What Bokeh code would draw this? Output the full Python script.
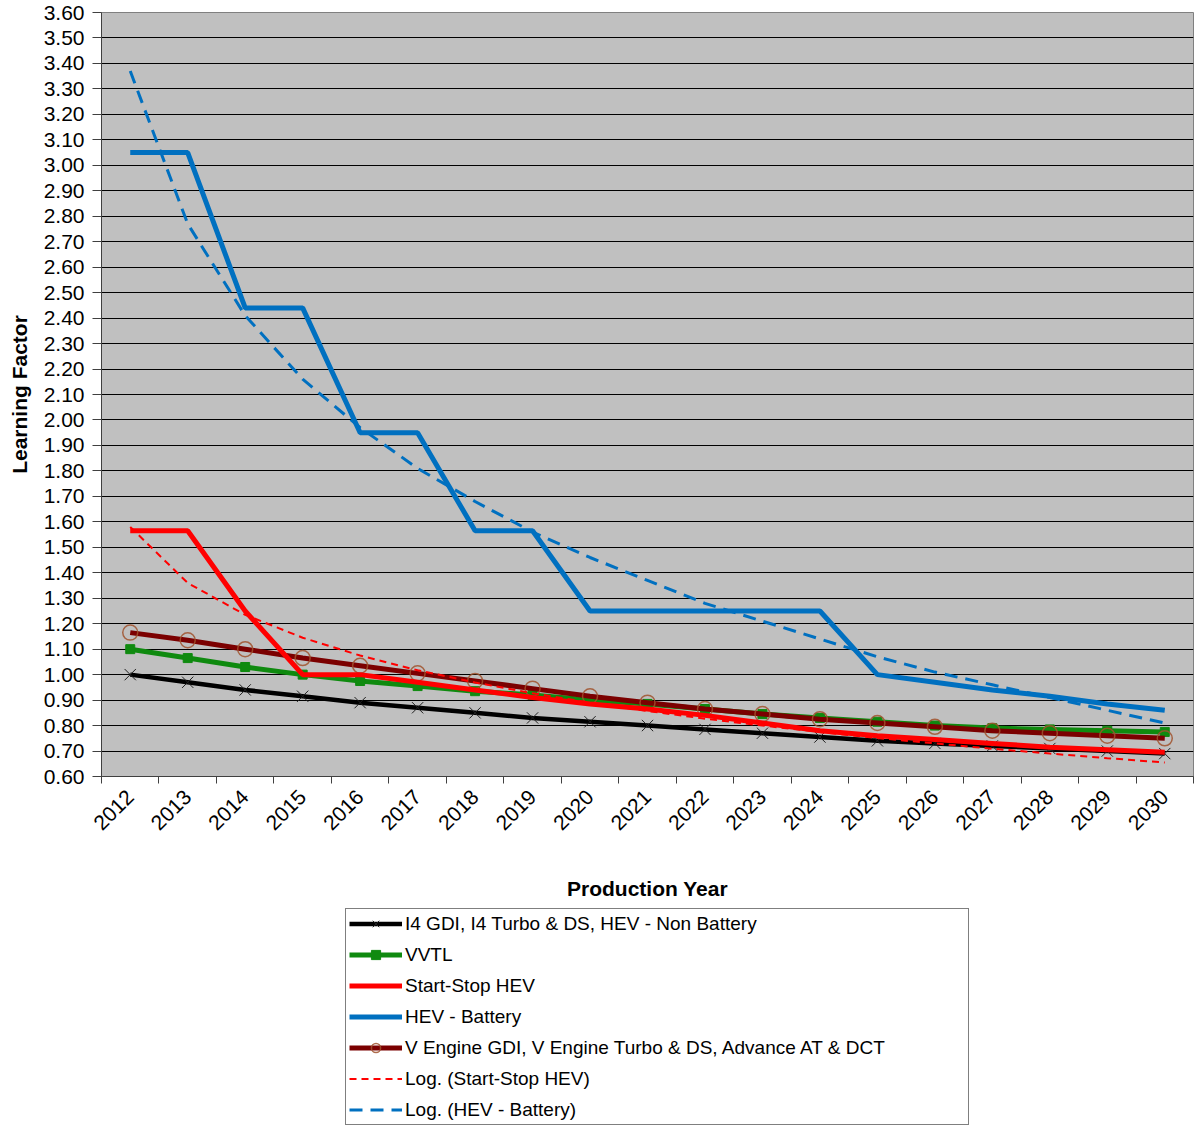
import numpy as np
from bokeh.plotting import figure
from bokeh.layouts import column
from bokeh.models import (FixedTicker, PrintfTickFormatter, Legend, LegendItem,
                          Range1d, CustomJSTickFormatter)
from bokeh.embed import file_html
from bokeh.resources import INLINE

# ---------------- data ----------------
years = ["2012", "2013", "2014", "2015", "2016", "2017", "2018", "2019", "2020",
         "2021", "2022", "2023", "2024", "2025", "2026", "2027", "2028", "2029", "2030"]

i4_non_battery = [1.00, 0.97, 0.94, 0.915, 0.89, 0.87, 0.85, 0.83, 0.815, 0.80,
                  0.785, 0.77, 0.755, 0.74, 0.73, 0.72, 0.71, 0.70, 0.69]
vvtl = [1.10, 1.065, 1.03, 1.00, 0.975, 0.955, 0.935, 0.92, 0.90, 0.885,
        0.865, 0.845, 0.83, 0.815, 0.80, 0.79, 0.785, 0.78, 0.775]
start_stop_hev = [1.565, 1.565, 1.25, 1.00, 1.00, 0.97, 0.94, 0.91, 0.885, 0.865,
                  0.84, 0.81, 0.78, 0.76, 0.745, 0.73, 0.715, 0.705, 0.695]
hev_battery = [3.05, 3.05, 2.44, 2.44, 1.95, 1.95, 1.565, 1.565, 1.25, 1.25,
               1.25, 1.25, 1.25, 1.00, 0.97, 0.94, 0.915, 0.885, 0.86]
v_engine = [1.165, 1.135, 1.10, 1.065, 1.035, 1.005, 0.975, 0.945, 0.915, 0.89,
            0.865, 0.845, 0.825, 0.81, 0.795, 0.78, 0.77, 0.76, 0.75]
log_start_stop = [1.58, 1.36, 1.235, 1.145, 1.075, 1.017, 0.969, 0.927, 0.89, 0.857,
                  0.827, 0.80, 0.775, 0.751, 0.73, 0.709, 0.69, 0.672, 0.655]
log_hev_battery = [3.37, 2.77, 2.41, 2.16, 1.97, 1.81, 1.68, 1.56, 1.46, 1.37,
                   1.28, 1.21, 1.14, 1.07, 1.01, 0.96, 0.91, 0.86, 0.81]

y_ticks = [0.60, 0.70, 0.80, 0.90, 1.00, 1.10, 1.20, 1.30, 1.40, 1.50, 1.60,
           1.70, 1.80, 1.90, 2.00, 2.10, 2.20, 2.30, 2.40, 2.50, 2.60, 2.70,
           2.80, 2.90, 3.00, 3.10, 3.20, 3.30, 3.40, 3.50, 3.60]

series_labels = ["I4 GDI, I4 Turbo & DS, HEV - Non Battery", "VVTL", "Start-Stop HEV",
                 "HEV - Battery", "V Engine GDI, V Engine Turbo & DS, Advance AT & DCT",
                 "Log. (Start-Stop HEV)", "Log. (HEV - Battery)"]

# ---------------- styles ----------------
FONT = "Liberation Sans"
STY = {
    "i4": dict(line_color="black", line_width=4.5),
    "i4m": dict(marker="x", size=16, line_color="#202020", line_width=1),
    "vv": dict(line_color="#0F8A0F", line_width=5),
    "vvm": dict(marker="square", size=9, fill_color="#0F8A0F", line_color="#0F8A0F"),
    "ve": dict(line_color="#7B0000", line_width=5),
    "vem": dict(marker="circle", size=15, fill_color=None, line_color="#A0522D",
                line_alpha=0.85, line_width=1.5),
    "ss": dict(line_color="#FF0000", line_width=5),
    "hb": dict(line_color="#0070C0", line_width=5),
    "lss": dict(line_color="#FF0000", line_width=2, line_dash="7 5"),
    "lhb": dict(line_color="#0070C0", line_width=3, line_dash="13 8"),
}
SERIES = {"i4": i4_non_battery, "vv": vvtl, "ve": v_engine, "ss": start_stop_hev,
          "hb": hev_battery, "lss": log_start_stop, "lhb": log_hev_battery}

# ---------------- main figure ----------------
n = len(years)
xc = [i + 0.5 for i in range(n)]

p = figure(width=1195, height=906,
           x_range=Range1d(0, n), y_range=Range1d(y_ticks[0], y_ticks[-1]),
           output_backend="svg", toolbar_location=None,
           min_border_left=101, min_border_right=2, min_border_top=12,
           min_border_bottom=130,
           background_fill_color="#C0C0C0", border_fill_color="white")
p.outline_line_color = "#808080"
p.xgrid.grid_line_color = None
p.ygrid.grid_line_color = "black"
p.ygrid.grid_line_width = 1
p.ygrid.ticker = FixedTicker(ticks=y_ticks)

xa = p.xaxis[0]
xa.ticker = FixedTicker(ticks=xc, minor_ticks=list(range(n + 1)))
xa.formatter = CustomJSTickFormatter(args=dict(labels=years),
                                     code="return labels[Math.round(tick - 0.5)] || ''")
xa.major_tick_out = 0
xa.major_tick_in = 0
xa.minor_tick_out = 7
xa.minor_tick_in = 0
xa.minor_tick_line_color = "#404040"
xa.axis_line_color = "#404040"
xa.major_label_orientation = np.pi / 4
xa.major_label_text_font = FONT
xa.major_label_text_font_size = "21px"
xa.major_label_text_color = "black"
xa.major_label_standoff = 10
xa.axis_label = "Production Year"
xa.axis_label_text_font = FONT
xa.axis_label_text_font_size = "21px"
xa.axis_label_text_font_style = "bold"
xa.axis_label_text_color = "black"
xa.axis_label_standoff = 38

ya = p.yaxis[0]
ya.ticker = FixedTicker(ticks=y_ticks)
ya.formatter = PrintfTickFormatter(format="%.2f")
ya.major_tick_out = 9
ya.major_tick_in = 0
ya.minor_tick_out = 0
ya.minor_tick_in = 0
ya.major_tick_line_color = "#404040"
ya.axis_line_color = "#404040"
ya.major_label_text_font = FONT
ya.major_label_text_font_size = "21px"
ya.major_label_text_color = "black"
ya.major_label_standoff = 8
ya.axis_label = "Learning Factor"
ya.axis_label_text_font = FONT
ya.axis_label_text_font_size = "21px"
ya.axis_label_text_font_style = "bold"
ya.axis_label_text_color = "black"
ya.axis_label_standoff = 10

p.line(xc, i4_non_battery, **STY["i4"])
p.scatter(xc, i4_non_battery, **STY["i4m"])
p.line(xc, vvtl, **STY["vv"])
p.scatter(xc, vvtl, **STY["vvm"])
p.line(xc, v_engine, **STY["ve"])
p.scatter(xc, v_engine, **STY["vem"])
p.line(xc, start_stop_hev, **STY["ss"])
p.line(xc, hev_battery, **STY["hb"])
p.line(xc, log_start_stop, **STY["lss"])
p.line(xc, log_hev_battery, **STY["lhb"])

# ---------------- legend strip (below the chart) ----------------
# its view range lies outside the data, so only the legend keys are visible
lg = figure(width=1195, height=219, x_range=Range1d(0, n), y_range=Range1d(-2, -1),
            output_backend="svg", toolbar_location=None,
            x_axis_location=None, y_axis_location=None,
            min_border_left=0, min_border_right=0, min_border_top=0, min_border_bottom=0,
            background_fill_color="white", border_fill_color="white")
lg.grid.grid_line_color = None
lg.outline_line_color = None

def key_line(k):
    return lg.line(xc, SERIES[k], **STY[k])

def key_mark(k, s):
    return lg.scatter(xc, SERIES[s], **STY[k])

items = [
    LegendItem(label=series_labels[0], renderers=[key_line("i4"), key_mark("i4m", "i4")]),
    LegendItem(label=series_labels[1], renderers=[key_line("vv"), key_mark("vvm", "vv")]),
    LegendItem(label=series_labels[2], renderers=[key_line("ss")]),
    LegendItem(label=series_labels[3], renderers=[key_line("hb")]),
    LegendItem(label=series_labels[4], renderers=[key_line("ve"), key_mark("vem", "ve")]),
    LegendItem(label=series_labels[5], renderers=[key_line("lss")]),
    LegendItem(label=series_labels[6], renderers=[key_line("lhb")]),
]
legend = Legend(items=items, location=(244, 0), orientation="vertical",
                label_text_font=FONT, label_text_font_size="19px", label_text_color="black",
                glyph_width=53, glyph_height=23, label_height=23, label_width=560,
                spacing=8, padding=3, label_standoff=3, margin=0,
                border_line_color="black", border_line_width=1,
                background_fill_color="white", background_fill_alpha=1.0)
lg.add_layout(legend, "center")

layout = column(p, lg, spacing=0)
open("out.html", "w").write(file_html(layout, INLINE))
